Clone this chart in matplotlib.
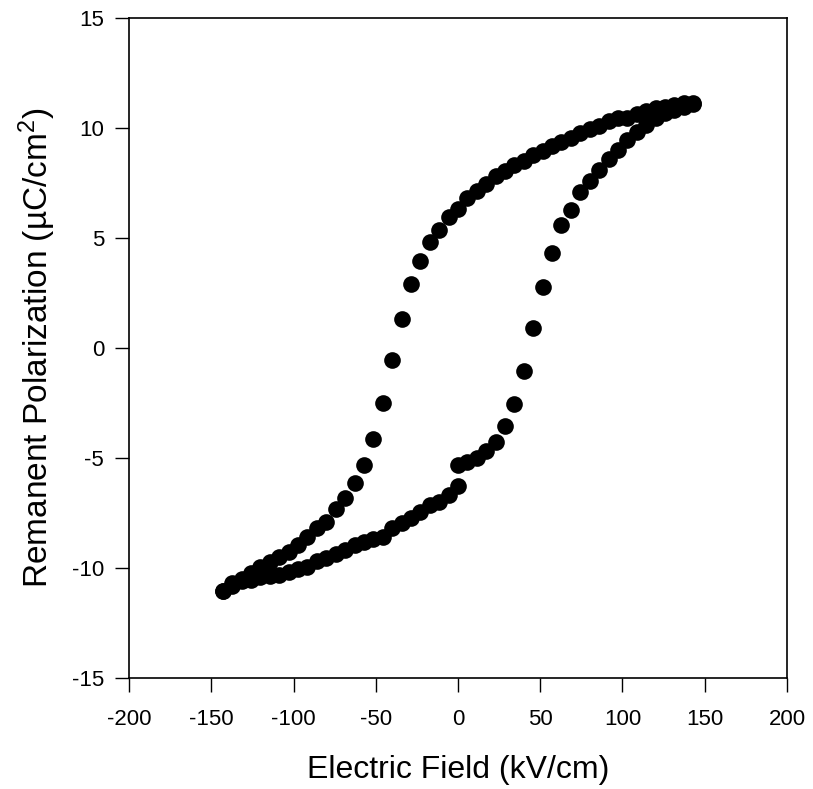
import numpy as np
import matplotlib.pyplot as plt

plt.rcParams['font.family'] = ['Liberation Sans', 'DejaVu Sans']
plt.rcParams['mathtext.fontset'] = 'custom'
plt.rcParams['mathtext.rm'] = 'Liberation Sans'
plt.rcParams['mathtext.it'] = 'Liberation Sans:italic'
plt.rcParams['axes.unicode_minus'] = False

# upper branch: field swept from +max down to -max
e_down = [143.0, 137.3, 131.6, 125.9, 120.1, 114.4, 108.7, 103.0, 97.2, 91.5,
          85.8, 80.1, 74.4, 68.6, 62.9, 57.2, 51.5, 45.8, 40.0, 34.3,
          28.6, 22.9, 17.2, 11.4, 5.7, 0.0, -5.7, -11.4, -17.2, -22.9,
          -28.6, -34.3, -40.0, -45.8, -51.5, -57.2, -62.9, -68.6, -74.4, -80.1,
          -85.8, -91.5, -97.2, -103.0, -108.7, -114.4, -120.1, -125.9, -131.6, -137.3,
          -143.0]
p_down = [11.1, 11.15, 11.05, 10.95, 10.9, 10.75, 10.65, 10.45, 10.45, 10.3,
          10.1, 9.95, 9.75, 9.55, 9.35, 9.2, 8.95, 8.75, 8.5, 8.3,
          8.05, 7.8, 7.45, 7.15, 6.8, 6.3, 5.95, 5.35, 4.8, 3.95,
          2.9, 1.3, -0.55, -2.5, -4.15, -5.3, -6.15, -6.8, -7.3, -7.9,
          -8.2, -8.58, -8.95, -9.26, -9.5, -9.74, -9.94, -10.25, -10.5, -10.7,
          -11.05]

# lower branch: field swept from -max up to +max
e_up = [-143.0, -137.3, -131.6, -125.9, -120.1, -114.4, -108.7, -103.0, -97.2, -91.5,
        -85.8, -80.1, -74.4, -68.6, -62.9, -57.2, -51.5, -45.8, -40.0, -34.3,
        -28.6, -22.9, -17.2, -11.4, -5.7, 0.0, 0.0, 5.7, 11.4, 17.2,
        22.9, 28.6, 34.3, 40.0, 45.8, 51.5, 57.2, 62.9, 68.6, 74.4,
        80.1, 85.8, 91.5, 97.2, 103.0, 108.7, 114.4, 120.1, 125.9, 131.6,
        137.3, 143.0]
p_up = [-11.05, -10.8, -10.6, -10.55, -10.4, -10.35, -10.3, -10.17, -10.06, -9.97,
        -9.7, -9.55, -9.35, -9.2, -8.95, -8.8, -8.67, -8.58, -8.2, -7.95,
        -7.74, -7.46, -7.14, -7.0, -6.7, -6.27, -5.32, -5.17, -5.0, -4.67,
        -4.29, -3.55, -2.55, -1.06, 0.9, 2.79, 4.33, 5.59, 6.29, 7.08,
        7.6, 8.1, 8.6, 9.0, 9.45, 9.83, 10.14, 10.44, 10.66, 10.8,
        10.97, 11.12]

x_ticks = [-200, -150, -100, -50, 0, 50, 100, 150, 200]
y_ticks = [-15, -10, -5, 0, 5, 10, 15]

fig = plt.figure(figsize=(8.13, 7.89), dpi=100)
ax = fig.add_axes([0.1587, 0.1407, 0.8093, 0.8365])

ax.plot(e_down, p_down, 'o', color='black', ms=12, mew=0)
ax.plot(e_up, p_up, 'o', color='black', ms=12, mew=0)

ax.set_xlim(-200, 200)
ax.set_ylim(-15, 15)
ax.set_xticks(x_ticks)
ax.set_yticks(y_ticks)
ax.tick_params(direction='out', length=10, width=1, labelsize=16,
               top=False, right=False)
ax.tick_params(axis='x', pad=12)
ax.tick_params(axis='y', pad=8)
for s in ax.spines.values():
    s.set_linewidth(1.2)

ax.set_xlabel('Electric Field (kV/cm)', fontsize=23, labelpad=18)
ax.set_ylabel('Remanent Polarization (µC/cm$^2$)', fontsize=24, labelpad=10)

fig.savefig('out.png', dpi=100)
